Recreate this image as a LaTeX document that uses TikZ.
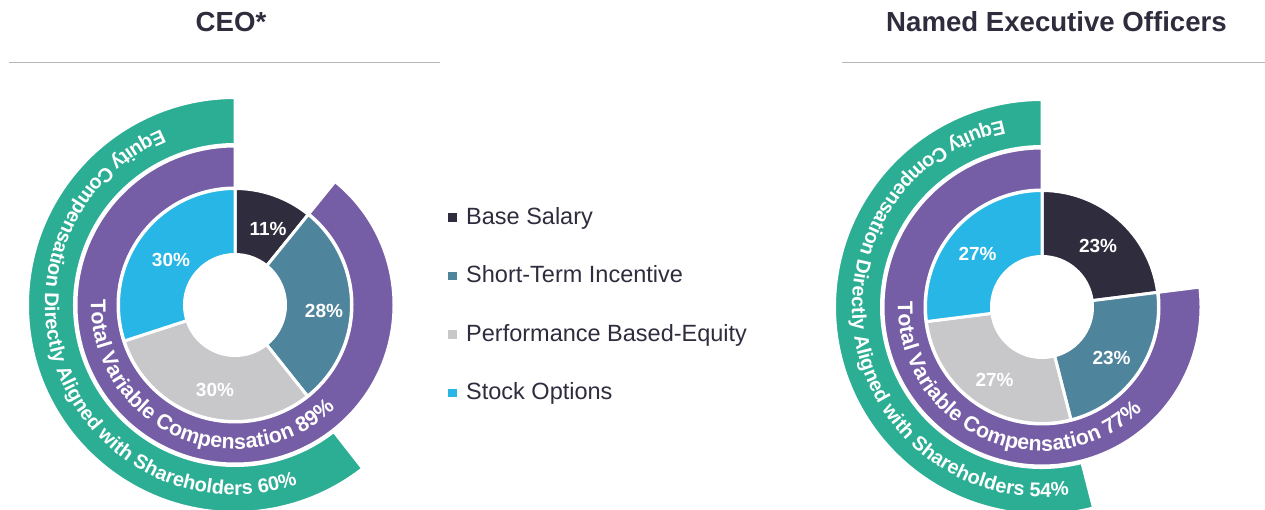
\documentclass[tikz,border=0pt]{standalone}
\usepackage{fontspec}
\setmainfont{Liberation Sans}
\usetikzlibrary{decorations.text,calc}
\definecolor{cBase}{HTML}{2F2C3D}
\definecolor{cSTI}{HTML}{4E849C}
\definecolor{cPBE}{HTML}{C8C8CB}
\definecolor{cSO}{HTML}{27B6E6}
\definecolor{cPurple}{HTML}{765EA6}
\definecolor{cGreen}{HTML}{2BAE94}
\definecolor{cTitle}{HTML}{2F2C3D}
\definecolor{cRule}{HTML}{B5B5BB}
% center, inner radius, outer radius, start angle, end angle, colour
\newcommand\ringseg[6]{%
  \path[fill=#6, draw=white, line width=3pt]
    ($(#1)+(#4:#3)$) arc[start angle=#4, end angle=#5, radius=#3]
    -- ($(#1)+(#5:#2)$) arc[start angle=#5, end angle=#4, radius=#2] -- cycle;}
% center, radius, start, end, font size, text
\newcommand\ringtext[6]{%
  \path[decorate, decoration={text along path, text align=center, text color=white,
    text={|\fontsize{#5}{#5}\selectfont\bfseries|#6}}]
    ($(#1)+(#3:#2)$) arc[start angle=#3, end angle=#4, radius=#2];}
\begin{document}
\begin{tikzpicture}[x=1pt, y=1pt,
  title/.style={font=\fontsize{27.6pt}{30pt}\selectfont\bfseries, text=cTitle, anchor=base, inner sep=0pt},
  rule/.style={draw=cRule, line width=1.5pt},
  pct/.style={font=\fontsize{19pt}{20pt}\selectfont\bfseries, text=white, inner sep=0pt},
  legbox/.style={minimum size=8.5pt, inner sep=0pt, draw=none},
  legtext/.style={font=\fontsize{23.5pt}{25pt}\selectfont, text=cTitle, anchor=base west, inner sep=0pt}]
\useasboundingbox (0,0) rectangle (1265,510);

% titles and rules
\node[title] (t1) at (231,478.3) {CEO*};
\node[title] (t2) at (1056.5,478.3) {Named Executive Officers};
\coordinate (r1a) at (9,447.3);  \coordinate (r1b) at (440,447.3);
\coordinate (r2a) at (842,447.3); \coordinate (r2b) at (1265,447.3);
\draw[rule] (r1a) -- (r1b);
\draw[rule] (r2a) -- (r2b);

% ---------- CEO chart ----------
\coordinate (c1) at (235,205);
\ringseg{c1}{160.5pt}{207.5pt}{90}{308}{cGreen}
\ringseg{c1}{117pt}{159pt}{90}{411}{cPurple}
\ringseg{c1}{50.5pt}{116.5pt}{51}{90}{cBase}
\ringseg{c1}{50.5pt}{116.5pt}{-51.5}{51}{cSTI}
\ringseg{c1}{50.5pt}{116.5pt}{-162}{-51.5}{cPBE}
\ringseg{c1}{50.5pt}{116.5pt}{-270}{-162}{cSO}
\ringtext{c1}{190pt}{100}{302}{19.9pt}{Equity Compensation Directly Aligned with Shareholders 60{\%}}
\ringtext{c1}{144pt}{160}{332}{21.3pt}{Total Variable Compensation 89{\%}}
\node[pct] (p11) at (268,281) {11\%};
\node[pct] (p12) at (324,199.5) {28\%};
\node[pct] (p13) at (215,120) {30\%};
\node[pct] (p14) at (171,250) {30\%};

% ---------- NEO chart ----------
\coordinate (c2) at (1042,203);
\ringseg{c2}{160.5pt}{207.5pt}{90}{284.4}{cGreen}
\ringseg{c2}{117pt}{159pt}{90}{367.2}{cPurple}
\ringseg{c2}{50.5pt}{116.5pt}{7.2}{90}{cBase}
\ringseg{c2}{50.5pt}{116.5pt}{-75.6}{7.2}{cSTI}
\ringseg{c2}{50.5pt}{116.5pt}{-172.8}{-75.6}{cPBE}
\ringseg{c2}{50.5pt}{116.5pt}{-270}{-172.8}{cSO}
\ringtext{c2}{190pt}{89}{291}{19.9pt}{Equity Compensation Directly Aligned with Shareholders 54{\%}}
\ringtext{c2}{144pt}{160}{332}{21.3pt}{Total Variable Compensation 77{\%}}
\node[pct] (p21) at (1098,264) {23\%};
\node[pct] (p22) at (1111.5,152) {23\%};
\node[pct] (p23) at (994.6,130) {27\%};
\node[pct] (p24) at (977.6,256.4) {27\%};

% ---------- legend ----------
\node[legbox, fill=cBase] (lb1) at (452.5,292.5) {};
\node[legtext] (lt1) at (466,285.7) {Base Salary};
\node[legbox, fill=cSTI] (lb2) at (452.5,234) {};
\node[legtext] (lt2) at (466,227.2) {Short-Term Incentive};
\node[legbox, fill=cPBE] (lb3) at (452.5,175.5) {};
\node[legtext] (lt3) at (466,168.7) {Performance Based-Equity};
\node[legbox, fill=cSO] (lb4) at (452.5,117) {};
\node[legtext] (lt4) at (466,110.2) {Stock Options};
\end{tikzpicture}
\end{document}
